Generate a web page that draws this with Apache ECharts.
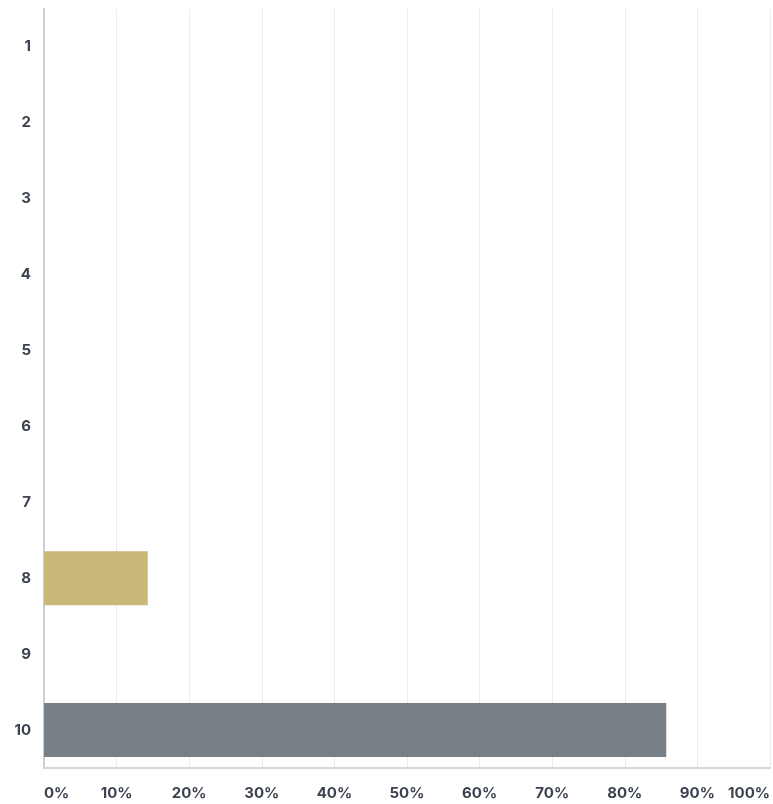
<!DOCTYPE html>
<html>
<head>
<meta charset="utf-8">
<style>
html,body{margin:0;padding:0;background:#fff;}
#chart{width:773px;height:804px;}
</style>
<script src="https://cdn.jsdelivr.net/npm/echarts@6/dist/echarts.min.js"></script>
</head>
<body>
<div id="chart"></div>
<script>
var categories = ['1','2','3','4','5','6','7','8','9','10'];
var values = [0, 0, 0, 0, 0, 0, 0, 14.29, 0, 85.71];
var barColors = ['#c8b87a','#c8b87a','#c8b87a','#c8b87a','#c8b87a','#c8b87a','#c8b87a','#c8b87a','#c8b87a','#777f87'];

var chart = echarts.init(document.getElementById('chart'));
chart.setOption({
  animation: false,
  grid: {left: 44, right: 3, top: 9, bottom: 36, containLabel: false},
  xAxis: {
    type: 'value', min: 0, max: 100, interval: 10,
    axisLabel: {formatter: '{value}%', color: '#3b4350', fontFamily: 'Inter', fontWeight: 'bold', fontSize: 15, margin: 18,
      alignMinLabel: 'left', alignMaxLabel: 'right'},
    axisLine: {show: true, lineStyle: {color: '#d6d6d6', width: 2}},
    axisTick: {show: false},
    splitLine: {show: true, lineStyle: {color: '#ebebeb', width: 1}}
  },
  yAxis: {
    type: 'category', data: categories, inverse: true,
    axisLabel: {color: '#3b4350', fontFamily: 'Inter', fontWeight: 'bold', fontSize: 15, margin: 13},
    axisLine: {show: true, lineStyle: {color: '#d0d0d0', width: 2}},
    axisTick: {show: false}
  },
  series: [{
    type: 'bar',
    data: values.map(function(v, i){ return {value: v, itemStyle: {color: barColors[i]}}; }),
    barCategoryGap: '29%'
  }]
});
</script>
</body>
</html>
